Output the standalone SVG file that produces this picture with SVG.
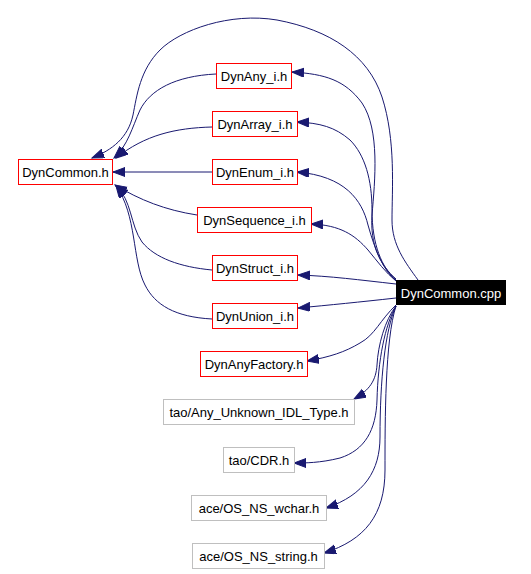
<svg xmlns="http://www.w3.org/2000/svg" width="531" height="574" viewBox="0 0 531 574">
<style>
.n rect{fill:#fff;stroke:#ff0000;stroke-width:1}
.g rect{fill:#fff;stroke:#bfbfbf;stroke-width:1}
.r rect{fill:#000;stroke:#000;stroke-width:1}
text{font-family:"Liberation Sans",Arial,sans-serif;font-size:13px;text-anchor:middle;fill:#000}
.r text{fill:#fff}
#edges path{fill:none;stroke:#191970;stroke-width:1;marker-end:url(#ah)}
</style>
<defs>
<marker id="ah" markerUnits="userSpaceOnUse" markerWidth="14" markerHeight="11" refX="12" refY="4.5" orient="auto" viewBox="0 0 14 11">
<path d="M0,0 L12,4.5 L0,9 z" fill="#191970" stroke="#191970" stroke-width="1"/>
</marker>
</defs>
<rect width="531" height="574" fill="#fff"/>
<g id="edges">
<path d="M418,280 C405,262 392,245 392,220 C392,190 396,140 382,97 C368,55 330,30 277,20 C230,12 180,30 160,50 C140,70 137,95 133,115 C128,138 112,150 92,158"/>
<path d="M396,279 C380,265 370,245 372,215 C375,180 380,130 362,103 C345,80 325,74 292,72"/>
<path d="M396,280 C382,268 372,245 372,210 C372,180 365,155 350,140 C335,127 320,123 297,122"/>
<path d="M396,281 C383,270 375,250 368,225 C362,200 345,176 297,172"/>
<path d="M396,281 C385,272 378,262 368,250 C355,235 340,225 311,224"/>
<path d="M396,284 C360,280 330,276 298,275"/>
<path d="M396,298 C360,302 330,305 298,308"/>
<path d="M396,305 C380,320 375,335 360,343 C345,352 330,357 307,361"/>
<path d="M396,306 C385,320 378,345 377,365 C376,380 370,390 354,399"/>
<path d="M396,306 C385,325 378,360 377,400 C376,430 365,450 340,458 C320,463 305,463 294,463"/>
<path d="M396,306 C385,330 380,380 380,437 C380,470 365,495 326,508"/>
<path d="M396,306 C385,340 385,420 385,470 C385,515 365,540 324,553"/>
<path d="M216,74 C175,76 150,90 140,110 C132,128 128,145 114,158"/>
<path d="M212,127 C175,128 145,135 116,158"/>
<path d="M212,172 L113,172"/>
<path d="M197,215 C165,210 140,200 115,185"/>
<path d="M212,270 C180,267 155,258 142,242 C130,225 132,200 116,186"/>
<path d="M212,319 C175,317 155,305 145,285 C132,260 137,215 116,186"/>
</g>
<g id="DynCommon_h" class="n"><rect x="18.5" y="159.5" width="94" height="25"/><text x="65.5" y="177">DynCommon.h</text></g>
<g id="DynAny_i_h" class="n"><rect x="216.5" y="63.5" width="75" height="25"/><text x="254" y="81">DynAny_i.h</text></g>
<g id="DynArray_i_h" class="n"><rect x="212.5" y="111.5" width="85" height="25"/><text x="255" y="129">DynArray_i.h</text></g>
<g id="DynEnum_i_h" class="n"><rect x="212.5" y="159.5" width="85" height="25"/><text x="255" y="177">DynEnum_i.h</text></g>
<g id="DynSequence_i_h" class="n"><rect x="197.5" y="207.5" width="114" height="25"/><text x="254.5" y="225">DynSequence_i.h</text></g>
<g id="DynStruct_i_h" class="n"><rect x="212.5" y="255.5" width="85" height="25"/><text x="255" y="273">DynStruct_i.h</text></g>
<g id="DynUnion_i_h" class="n"><rect x="212.5" y="303.5" width="85" height="25"/><text x="255" y="321">DynUnion_i.h</text></g>
<g id="DynAnyFactory_h" class="n"><rect x="200.5" y="351.5" width="107" height="25"/><text x="254" y="369">DynAnyFactory.h</text></g>
<g id="DynCommon_cpp" class="r"><rect x="396.5" y="280.5" width="109" height="24"/><text x="451" y="297.5">DynCommon.cpp</text></g>
<g id="Any_Unknown_IDL_Type_h" class="g"><rect x="163.5" y="399.5" width="191" height="25"/><text x="259" y="417">tao/Any_Unknown_IDL_Type.h</text></g>
<g id="CDR_h" class="g"><rect x="223.5" y="447.5" width="71" height="25"/><text x="259" y="465">tao/CDR.h</text></g>
<g id="OS_NS_wchar_h" class="g"><rect x="191.5" y="495.5" width="135" height="25"/><text x="259" y="513">ace/OS_NS_wchar.h</text></g>
<g id="OS_NS_string_h" class="g"><rect x="192.5" y="543.5" width="132" height="25"/><text x="258.5" y="561">ace/OS_NS_string.h</text></g>
</svg>
